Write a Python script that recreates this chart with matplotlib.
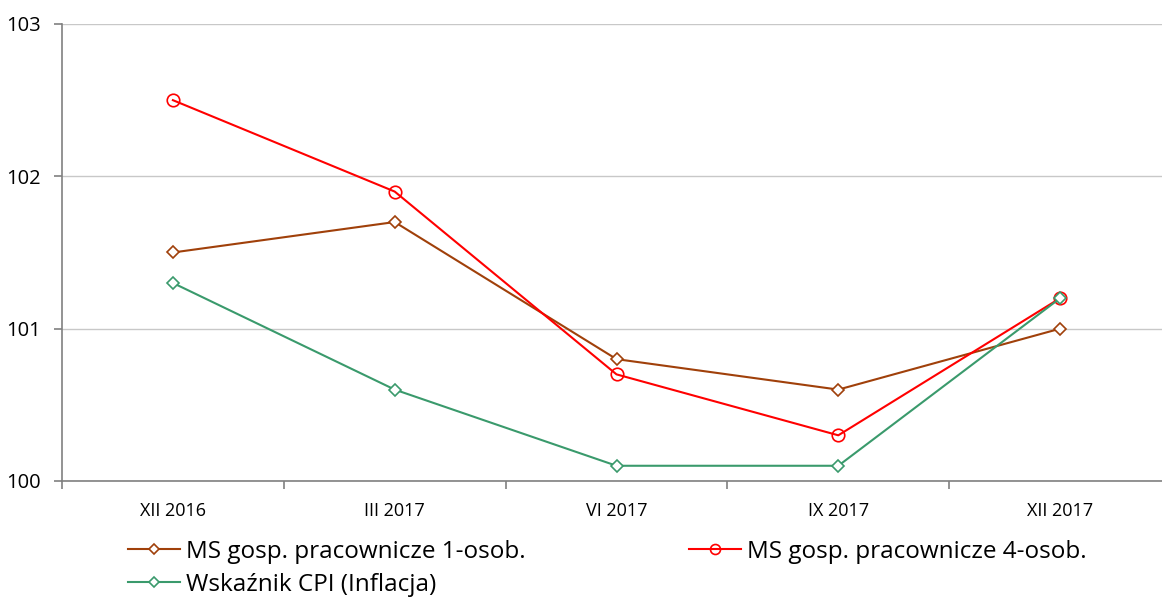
import matplotlib
matplotlib.use("Agg")
import matplotlib.pyplot as plt

plt.rcParams['font.family'] = ['Open Sans', 'DejaVu Sans']

categories = ["XII 2016", "III 2017", "VI 2017", "IX 2017", "XII 2017"]
ms1 = [101.5, 101.7, 100.8, 100.6, 101.0]
ms4 = [102.5, 101.9, 100.7, 100.3, 101.2]
cpi = [101.3, 100.6, 100.1, 100.1, 101.2]
labels = ["MS gosp. pracownicze 1-osob.", "MS gosp. pracownicze 4-osob.", "Wskaźnik CPI (Inflacja)"]
yticks = [100, 101, 102, 103]

c_brown = "#A0400A"
c_red = "#FF0000"
c_green = "#3A9A6C"

fig = plt.figure(figsize=(11.62, 6.01), dpi=100)
ax = fig.add_axes([62/1162, 1-481/601, (1171-62)/1162, (481-24)/601])

x = list(range(len(categories)))
l1, = ax.plot(x, ms1, color=c_brown, lw=1.5, marker='D', ms=6.5, mfc='white', mec=c_brown, mew=1.2)
l2, = ax.plot(x, ms4, color=c_red, lw=1.5, marker='o', ms=9, mfc='none', mec=c_red, mew=1.2)
l3, = ax.plot(x, cpi, color=c_green, lw=1.5, marker='D', ms=6.5, mfc='white', mec=c_green, mew=1.2)

ax.set_xlim(-0.5, len(categories) - 0.5)
ax.set_ylim(100, 103)
ax.set_yticks(yticks)
ax.set_yticklabels([str(v) for v in yticks], fontsize=14.5)
ax.set_xticks(x)
ax.set_xticklabels(categories, fontsize=13)
ax.tick_params(axis='x', which='major', length=0, pad=15)
ax.set_xticks([i - 0.5 for i in range(len(categories) + 1)], minor=True)
ax.tick_params(axis='x', which='minor', length=6, direction='out', color='#808080', width=1.2)
ax.tick_params(axis='y', length=6, direction='out', color='#808080', width=1.2, pad=9)

ax.grid(axis='y', color='#C8C8C8', lw=1)
ax.set_axisbelow(True)
for s in ['top', 'right']:
    ax.spines[s].set_visible(False)
for s in ['left', 'bottom']:
    ax.spines[s].set_color('#808080')
    ax.spines[s].set_linewidth(1.2)

fig.legend([l1, l3, l2], [labels[0], labels[2], labels[1]], ncol=2, loc='upper left',
           bbox_to_anchor=(128/1162, 1-540/601), frameon=False, fontsize=17.5,
           handlelength=2.14, handletextpad=0.25, columnspacing=6.7, labelspacing=0.37,
           borderaxespad=0, borderpad=0, markerscale=0.8)

fig.savefig("out.png", dpi=100)
